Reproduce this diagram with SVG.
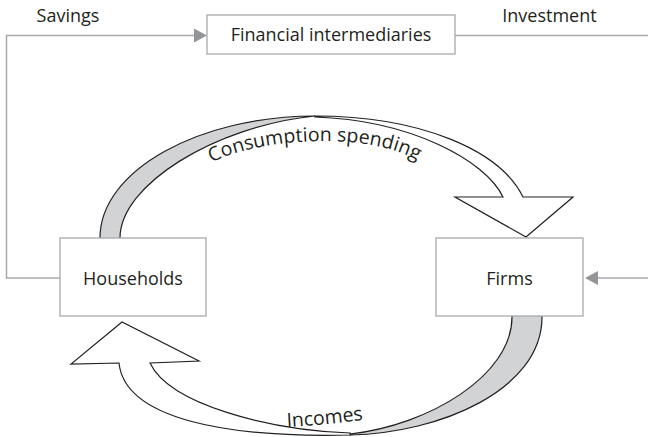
<svg xmlns="http://www.w3.org/2000/svg" width="648" height="437" viewBox="0 0 648 437">
<style>
.box{fill:#ffffff;stroke:#a7a9ac;stroke-width:1.3}
.lbl{font-family:'Open Sans','Liberation Sans',sans-serif;font-size:18px;fill:#231f20}
.curv{font-family:'Open Sans','Liberation Sans',sans-serif;font-size:19.5px;fill:#231f20}
.line{fill:none;stroke:#a7a9ac;stroke-width:1.5}
.head{fill:#939598}
.rib{stroke:#231f20;stroke-width:1.2;stroke-linejoin:miter}
.grey{fill:#d1d3d4}
.white{fill:#ffffff}
</style>
<defs>
<path id="tp1" d="M209,164 C255,138 370,130 420,162"/>
<path id="tp2" d="M287,427 Q325,425 366,419.5"/>
</defs>
<rect width="648" height="437" fill="#ffffff"/>
<g id="connectors">
<path class="line" d="M60,278 H6.5 V35.5 H196"/>
<polygon class="head" points="207,35.5 194,28.5 194,42.5"/>
<path class="line" d="M455,35.5 H648"/>
<path class="line" d="M648,278 H596"/>
<polygon class="head" points="585,278 598,271 598,285"/>
<path class="rib grey" d="M100,240 L100,238 C100,170 200,116 315,116 C215,126 120,185 120,238 L120,240 Z"/>
<path class="rib white" d="M315,116 C420,116 500,150 523,197 L573,197 L526,237 L455,197 L503,197 C485,160 410,120 315,117 Z"/>
<path class="rib grey" d="M512,314 L542,314 L542,317 C542,390 440,433 350,435 L350,434 C430,425 512,375 512,317 Z"/>
<path class="rib white" d="M350,435 C230,438 125,420 119,363 L71,364 L122,322 L199,361 L150,363 C170,405 270,430 350,433 Z"/>
<text class="lbl" x="68" y="22" text-anchor="middle">Savings</text>
<text class="lbl" x="549.5" y="22" text-anchor="middle">Investment</text>
<text class="curv"><textPath href="#tp1" startOffset="50%" text-anchor="middle">Consumption spending</textPath></text>
<text class="curv"><textPath href="#tp2" startOffset="0">Incomes</textPath></text>
</g>
<g id="financial">
<rect class="box" x="207" y="15" width="248" height="39"/>
<text class="lbl" x="331" y="41" text-anchor="middle">Financial intermediaries</text>
</g>
<g id="households">
<rect class="box" x="60" y="238" width="146" height="78"/>
<text class="lbl" x="133" y="285" text-anchor="middle">Households</text>
</g>
<g id="firms">
<rect class="box" x="436" y="238" width="147" height="78"/>
<text class="lbl" x="509.5" y="285" text-anchor="middle">Firms</text>
</g>
</svg>
